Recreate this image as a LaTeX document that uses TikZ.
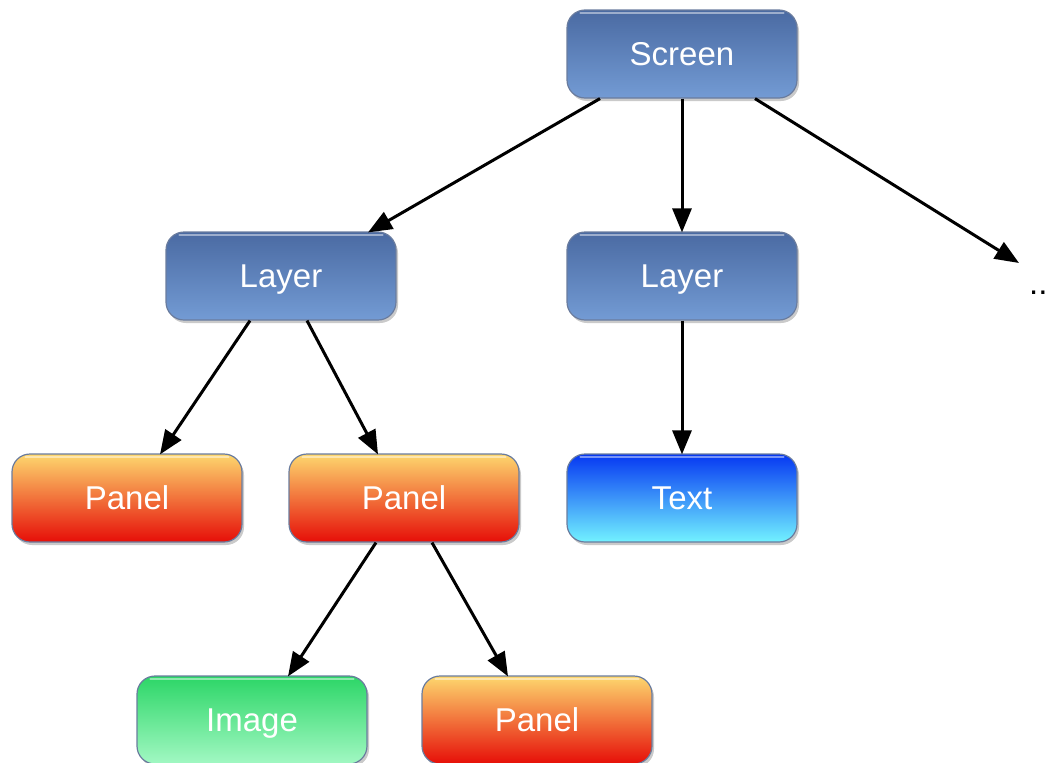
\documentclass[tikz,border=0pt]{standalone}
\usepackage{fontspec}
\setmainfont{Liberation Sans}
\usetikzlibrary{shadows,arrows.meta}
\definecolor{bluetop}{HTML}{4A6AA2}
\definecolor{bluebot}{HTML}{739BD4}
\definecolor{paneltop}{HTML}{FDD76E}
\definecolor{panelbot}{HTML}{E60E08}
\definecolor{texttop}{HTML}{0637F2}
\definecolor{textbot}{HTML}{72F2FF}
\definecolor{imgtop}{HTML}{2CD667}
\definecolor{imgbot}{HTML}{A2F8C3}
\definecolor{edge}{HTML}{6A7C9E}
\tikzset{
  box/.style={rounded corners=18pt, minimum width=230pt, minimum height=88pt,
    draw=edge, line width=1.2pt, text=white,
    font=\fontsize{33}{38}\selectfont, text height=26pt, text depth=4pt,
    drop shadow={shadow xshift=2pt, shadow yshift=-3pt, opacity=0.35, fill=black!60}},
  layerbox/.style={box, top color=bluetop, bottom color=bluebot},
  panelbox/.style={box, top color=paneltop, bottom color=panelbot},
  textbox/.style={box, top color=texttop, bottom color=textbot},
  imagebox/.style={box, top color=imgtop, bottom color=imgbot},
  gloss/.style={white, opacity=0.45, line width=2pt, line cap=round},
  conn/.style={line width=3pt, -{Triangle[length=24pt,width=19pt]}}
}
\begin{document}
\begin{tikzpicture}[x=1pt,y=-1pt]
\useasboundingbox (0,0) rectangle (1047,763);
\clip (0,0) rectangle (1047,763);
\node[layerbox] (screen) at (682,54) {Screen};
\node[layerbox] (layerA) at (281,276) {Layer};
\node[layerbox] (layerB) at (682,276) {Layer};
\node[panelbox] (panelA) at (127,498) {Panel};
\node[panelbox] (panelB) at (404,498) {Panel};
\node[textbox] (textn) at (682,498) {Text};
\node[imagebox] (imagen) at (252,720) {Image};
\node[panelbox] (panelC) at (537,720) {Panel};
\foreach \n in {screen,layerA,layerB,panelA,panelB,textn,imagen,panelC}
  \draw[gloss] ([xshift=14pt,yshift=-3.5pt]\n.north west) -- ([xshift=-14pt,yshift=-3.5pt]\n.north east);
\node[font=\fontsize{33}{38}\selectfont, anchor=base west, inner sep=0pt] (more) at (1029,294) {...};
\coordinate (moreend) at (1019,263);
\draw[conn] ([xshift=-82pt]screen.south) -- ([xshift=87pt,yshift=-1pt]layerA.north);
\draw[conn] (screen.south) -- ([yshift=-1pt]layerB.north);
\draw[conn] ([xshift=73pt]screen.south) -- (moreend);
\draw[conn] ([xshift=-31pt]layerA.south) -- ([xshift=33pt,yshift=-1pt]panelA.north);
\draw[conn] ([xshift=26pt]layerA.south) -- ([xshift=-26pt,yshift=-1pt]panelB.north);
\draw[conn] (layerB.south) -- ([yshift=-1pt]textn.north);
\draw[conn] ([xshift=-28pt]panelB.south) -- ([xshift=36pt,yshift=-1pt]imagen.north);
\draw[conn] ([xshift=28pt]panelB.south) -- ([xshift=-29pt,yshift=-1pt]panelC.north);
\end{tikzpicture}
\end{document}
